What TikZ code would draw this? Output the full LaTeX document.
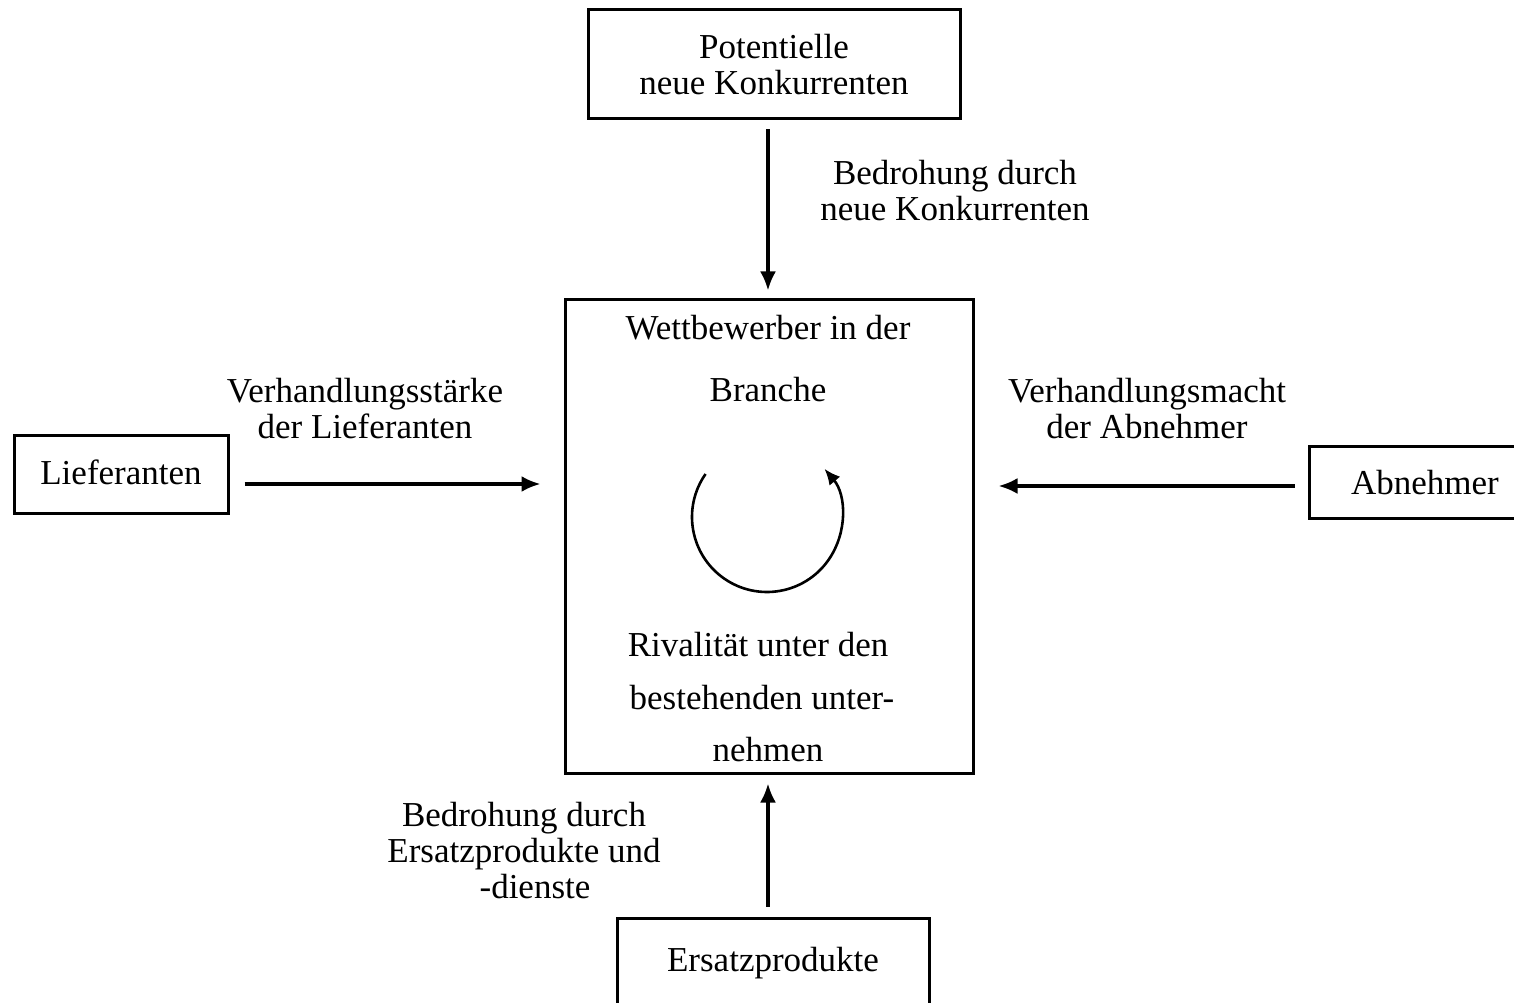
\documentclass[tikz,border=0pt]{standalone}
\usepackage{fontspec}
\setmainfont{Liberation Serif}
\usetikzlibrary{arrows.meta,calc}
\begin{document}
\begin{tikzpicture}[x=0.5pt,y=0.5pt,
  box/.style={draw, line width=1.5pt, inner sep=0pt, align=center, font=\fontsize{17.5}{18}\selectfont},
  lbl/.style={align=center, font=\fontsize{17.5}{18}\selectfont, inner sep=0pt},
  conn/.style={line width=1.6pt, -{Latex[length=9.5pt,width=8pt]}}]
\useasboundingbox (0,0) rectangle (1514,1002);
\fill[white] (0,0) rectangle (1514,1002);
% boxes
\node[box, minimum width=186pt, minimum height=54.5pt] (top) at (774,937.5) {Potentielle\\neue Konkurrenten};
\node[box, minimum width=204pt, minimum height=236.5pt] (ctr) at (769,465.5) {};
\node[box, minimum width=107pt, minimum height=39pt] (lief) at (121,527) {\raisebox{3pt}{Lieferanten}};
\node[box, minimum width=116pt, minimum height=36pt] (abn) at (1425,519) {Abnehmer};
\node[box, minimum width=156pt, minimum height=45pt] (ers) at (773,39) {Ersatzprodukte};
% center texts
\node[lbl] (c1) at (768,674) {Wettbewerber in der};
\node[lbl] (c2) at (768,612) {Branche};
\node[lbl] (c3) at (758,357) {Rivalität unter den};
\node[lbl] (c4) at (762,304) {bestehenden unter-};
\node[lbl] (c5) at (768,252) {nehmen};
% circular arrow
\coordinate (rc) at (767,485);
\draw[line width=1.3pt, -{Latex[length=8pt,width=7pt]}] ([shift={(145:75)}]rc) arc[start angle=145, end angle=400, radius=75];
% labels
\node[lbl] (bk) at (955,811) {Bedrohung durch\\neue Konkurrenten};
\node[lbl] (vl) at (365,593.5) {Verhandlungsstärke\\der Lieferanten};
\node[lbl] (va) at (1147,593) {Verhandlungsmacht\\der Abnehmer};
\node[lbl] (be) at (524,151) {Bedrohung durch\\Ersatzprodukte und\\\hspace*{11pt}-dienste};
% connectors
\draw[conn] ($(top.south)+(-6,-9)$) -- ($(top.south |- ctr.north)+(-6,8)$);
\draw[conn] ($(lief.east)+(15,-9)$) -- ($(ctr.west)+(-23,52.5)$);
\draw[conn] ($(abn.west)+(-13,-3)$) -- ($(ctr.east)+(24,50.5)$);
\draw[conn] ($(ers.north)+(-5,10)$) -- ($(ctr.south)+(-1,-9)$);
\end{tikzpicture}
\end{document}
